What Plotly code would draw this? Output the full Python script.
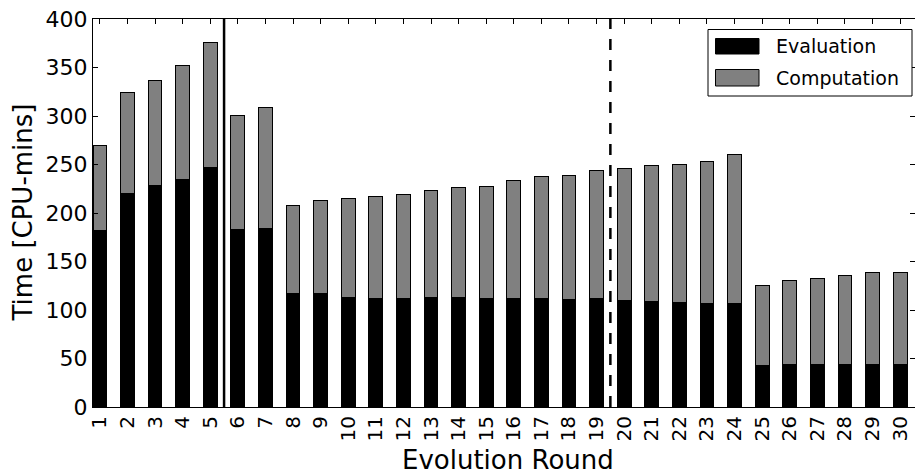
import plotly.graph_objects as go

# Evolution rounds and per-round CPU time split
rounds = list(range(1, 31))
evaluation = [182, 220, 228, 235, 247, 183, 184, 117.5, 117, 112.5,
              112, 112, 113, 113, 112, 111.5, 111.5, 111, 112, 110,
              108.5, 107.5, 107, 107, 43, 44, 44, 44, 44, 44]
computation = [88, 104, 109, 117, 129, 118, 125, 90, 96, 102.5,
               105.5, 107.5, 110.5, 113.5, 115.5, 121.5, 126.5, 127.5, 131.5, 135.5,
               140, 143, 146.5, 153.5, 82.5, 86.5, 88.5, 92, 94.5, 94.5]
y_ticks = [0, 50, 100, 150, 200, 250, 300, 350, 400]
phase_breaks = [4.5, 18.5]  # between rounds 5/6 and 19/20

W, H = 915, 475
L, R, T, B = 93, 0, 19, 68
FONT = "DejaVu Sans"

xpos = [r - 1 for r in rounds]

fig = go.Figure()
fig.add_trace(go.Bar(x=xpos, y=evaluation, name="Evaluation", width=0.5,
                     marker=dict(color="#000000", line=dict(color="#000000", width=1))))
fig.add_trace(go.Bar(x=xpos, y=computation, name="Computation", width=0.5,
                     marker=dict(color="#808080", line=dict(color="#000000", width=1))))
# Carrier for the right-hand tick marks (no visible data)
fig.add_trace(go.Scatter(x=[None], y=[None], yaxis="y2", mode="markers",
                         hoverinfo="skip", showlegend=False))

# Phase separators
fig.add_shape(type="line", xref="x", yref="paper", x0=phase_breaks[0], x1=phase_breaks[0],
              y0=0, y1=1, line=dict(color="black", width=2.5), layer="above")
fig.add_shape(type="line", xref="x", yref="paper", x0=phase_breaks[1], x1=phase_breaks[1],
              y0=0, y1=1, line=dict(color="black", width=2.5, dash="11px,10px"), layer="above")

pw = W - L - R
ph = H - T - B


def px_x(p):
    return (p - L) / pw


def px_y(p):
    return (H - B - p) / ph


# Legend box with swatches
fig.add_shape(type="rect", xref="paper", yref="paper",
              x0=px_x(708), x1=px_x(912), y0=px_y(96), y1=px_y(29.5),
              line=dict(color="black", width=1), fillcolor="white", layer="above")
legend_items = [("Evaluation", "#000000", 38.5, 54), ("Computation", "#808080", 69.5, 86)]
for label, color, top, bottom in legend_items:
    fig.add_shape(type="rect", xref="paper", yref="paper",
                  x0=px_x(715.5), x1=px_x(759), y0=px_y(bottom), y1=px_y(top),
                  line=dict(color="black", width=1), fillcolor=color, layer="above")
    fig.add_annotation(xref="paper", yref="paper", x=px_x(774), y=px_y((top + bottom) / 2),
                       text=label, showarrow=False, xanchor="left", yanchor="middle",
                       font=dict(family=FONT, size=19, color="black"))

# Axis titles
fig.add_annotation(xref="paper", yref="paper", x=px_x(508), y=px_y(460),
                   text="Evolution Round", showarrow=False, xanchor="center", yanchor="middle",
                   font=dict(family=FONT, size=26, color="black"))
fig.add_annotation(xref="paper", yref="paper", x=px_x(22.5), y=0.5, textangle=-90,
                   text="Time [CPU-mins]", showarrow=False, xanchor="center", yanchor="middle",
                   font=dict(family=FONT, size=26, color="black"))

fig.update_layout(
    width=W, height=H, autosize=False,
    margin=dict(l=L, r=R, t=T, b=B, pad=0),
    barmode="stack", showlegend=False,
    plot_bgcolor="white", paper_bgcolor="white",
    font=dict(family=FONT, color="black"),
    yaxis2=dict(overlaying="y", side="right", range=[0, 400], tickmode="array",
                tickvals=y_ticks, ticks="inside", ticklen=5, tickcolor="black", tickwidth=1,
                showticklabels=False, showline=False, showgrid=False, zeroline=False),
)
fig.update_xaxes(
    range=[-0.25, 29.54], tickmode="array", tickvals=xpos, ticktext=[str(r) for r in rounds],
    tickangle=-90, ticks="inside", ticklen=5, tickcolor="black", tickwidth=1,
    showline=True, linecolor="black", linewidth=1.2, mirror="ticks",
    showgrid=False, zeroline=False, tickfont=dict(family=FONT, size=20, color="black"),
)
fig.update_layout(yaxis=dict(
    range=[0, 400], tickmode="array", tickvals=y_ticks,
    ticks="inside", ticklen=5, tickcolor="black", tickwidth=1,
    showline=True, linecolor="black", linewidth=1.2, mirror=False,
    showgrid=False, zeroline=False, tickfont=dict(family=FONT, size=22, color="black"),
))

fig.write_html("out.html")
